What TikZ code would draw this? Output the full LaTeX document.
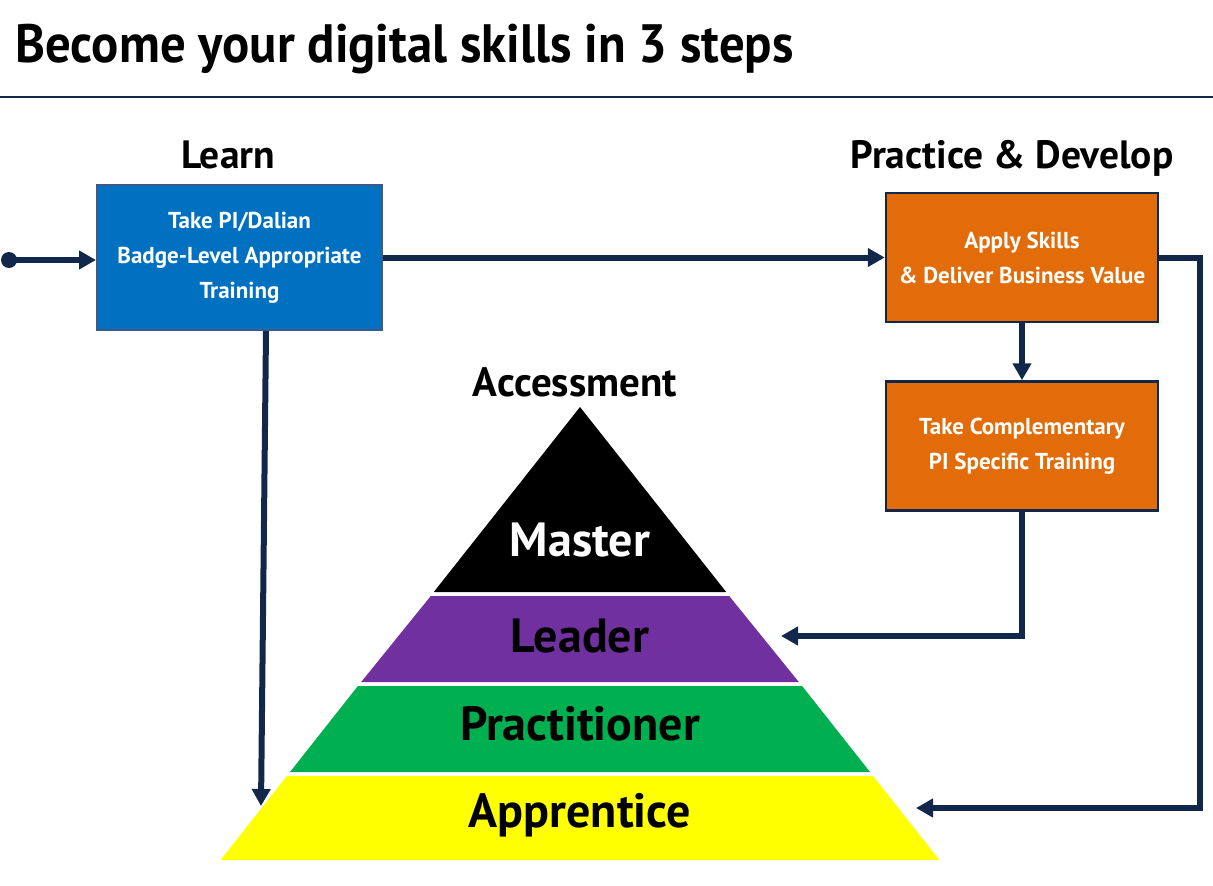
\documentclass[tikz,border=0pt]{standalone}
\usepackage{fontspec}
\setmainfont{PT Sans}
\usetikzlibrary{arrows.meta,calc}
\definecolor{navy}{HTML}{12284A}
\definecolor{learnblue}{HTML}{0070C0}
\definecolor{learnborder}{HTML}{3A5A8C}
\definecolor{orng}{HTML}{E36C0A}
\definecolor{purp}{HTML}{7030A0}
\definecolor{grn}{HTML}{00B050}
\definecolor{yel}{HTML}{FFFF00}
\tikzset{
  conn/.style={draw=navy, line width=6pt},
  arr/.style={conn, -{Triangle[length=17pt,width=18pt]}},
  bluebox/.style={draw=learnborder, line width=2pt, fill=learnblue, minimum width=285pt, minimum height=145pt, text=white, align=center, font=\bfseries\fontsize{23}{35}\selectfont},
  orangebox/.style={draw=navy, line width=2.5pt, fill=orng, minimum width=272pt, minimum height=129pt, text=white, align=center, font=\bfseries\fontsize{23}{35}\selectfont},
  heading/.style={font=\bfseries\fontsize{39.5}{40}\selectfont, text=black, inner sep=0pt, anchor=base},
  pyrlabel/.style={font=\bfseries\fontsize{48}{50}\selectfont, inner sep=0pt},
}
\begin{document}
\begin{tikzpicture}[x=1pt,y=-1pt]
\useasboundingbox (0,0) rectangle (1213,886);
\fill[white] (0,0) rectangle (1213,886);
% title
\node[anchor=base west, inner sep=0pt, font=\bfseries\fontsize{54}{56}\selectfont] (title) at (15,62) {\scalebox{0.94}[1]{Become your digital skills in 3 steps}};
\draw[navy, line width=1.2pt] (0,97) -- (1213,97);
% headings
\node[heading] (learnhead) at (228,168) {Learn};
\node[heading] (practhead) at (1012,168) {Practice \& Develop};
\node[heading, font=\bfseries\fontsize{41}{42}\selectfont] (acchead) at (575,396) {Accessment};
% boxes
\node[bluebox] (learnbox) at (239.5,257.5) {\raisebox{-2pt}{\parbox{270pt}{\centering Take PI/Dalian\\Badge-Level Appropriate\\Training}}};
\node[orangebox] (applybox) at (1022,257.5) {Apply Skills\\\& Deliver Business Value};
\node[orangebox] (compbox) at (1022,446) {Take Complementary\\PI Specific Training};
% pyramid
\fill[black] (580,407) -- (726.2,592) -- (433.8,592) -- cycle;
\fill[purp] (430.8,596) -- (729.2,596) -- (798.8,682) -- (361.2,682) -- cycle;
\fill[grn] (357.9,686) -- (802.1,686) -- (870.0,772) -- (290.0,772) -- cycle;
\fill[yel] (286.9,776) -- (873.1,776) -- (939.4,860) -- (220.6,860) -- cycle;
\node[pyrlabel, text=white] (master) at (580,540) {Master};
\node[pyrlabel] (leader) at (580,636) {Leader};
\node[pyrlabel] (practitioner) at (580,724) {Practitioner};
\node[pyrlabel] (apprentice) at (580,815) {Apprentice};
% connector endpoints
\coordinate (start) at (9,260);
\coordinate (leadertip) at (781,636);
\coordinate (apprtip) at (916,808);
\coordinate (lefttip) at (261,806);
\coordinate (rc) at (1200,808);
% connectors
\fill[navy] (start) circle (8pt);
\draw[arr] (start) -- (learnbox.west |- start);
\draw[arr] (learnbox.east) -- (applybox.west);
\draw[arr] (applybox.south) -- (compbox.north);
\draw[arr] (compbox.south) |- (leadertip);
\draw[arr] (applybox.east) -| (rc) -- (apprtip);
\draw[arr] ([xshift=26.5pt]learnbox.south) -- (lefttip);
\end{tikzpicture}
\end{document}
